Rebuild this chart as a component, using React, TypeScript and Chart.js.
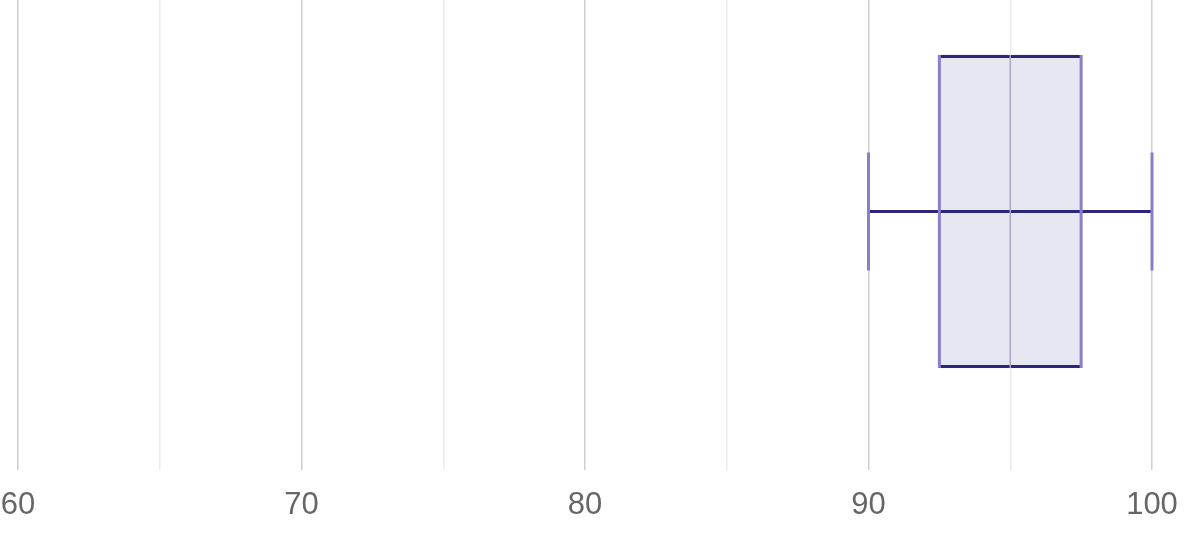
import React, { useEffect, useRef } from "react";
import { Chart, registerables } from "chart.js";

Chart.register(...registerables);

// box plot summary, one row
const categories = ["Score"];
const whiskerLow = [90];
const q1 = [92.5];
const median = [95];
const q3 = [97.5];
const whiskerHigh = [100];

const xTicks = [60, 70, 80, 90, 100];

const NAVY = "#29267c";
const PURPLE = "#8a7fcb";
const FILL = "#e7e7f1";
const MEDIAN = "#aaa7c6";

const boxPlotPlugin = {
  id: "boxPlot",
  afterDatasetsDraw(chart: Chart) {
    const ctx = chart.ctx;
    const xs = chart.scales.x;
    const meta = chart.getDatasetMeta(0);
    meta.data.forEach((bar: any, i: number) => {
      const { y, height } = bar.getProps(["y", "height"], true);
      const top = y - height / 2;
      const bottom = y + height / 2;
      const left = xs.getPixelForValue(q1[i]);
      const right = xs.getPixelForValue(q3[i]);
      const lo = xs.getPixelForValue(whiskerLow[i]);
      const hi = xs.getPixelForValue(whiskerHigh[i]);
      const mid = xs.getPixelForValue(median[i]);
      const capHalf = 59;

      ctx.save();
      ctx.lineCap = "butt";

      // top / bottom edges and whisker line
      ctx.strokeStyle = NAVY;
      ctx.lineWidth = 3;
      ctx.beginPath();
      ctx.moveTo(left, top + 1.5);
      ctx.lineTo(right, top + 1.5);
      ctx.moveTo(left, bottom - 1.5);
      ctx.lineTo(right, bottom - 1.5);
      ctx.moveTo(lo, y);
      ctx.lineTo(hi, y);
      ctx.stroke();

      // side edges and whisker caps
      ctx.strokeStyle = PURPLE;
      ctx.beginPath();
      ctx.moveTo(left, top);
      ctx.lineTo(left, bottom);
      ctx.moveTo(right, top);
      ctx.lineTo(right, bottom);
      ctx.moveTo(lo, y - capHalf);
      ctx.lineTo(lo, y + capHalf);
      ctx.moveTo(hi, y - capHalf);
      ctx.lineTo(hi, y + capHalf);
      ctx.stroke();

      // median
      ctx.strokeStyle = MEDIAN;
      ctx.lineWidth = 1.5;
      ctx.beginPath();
      ctx.moveTo(mid, top);
      ctx.lineTo(mid, bottom);
      ctx.stroke();
      ctx.restore();
    });
  },
};

const App: React.FC = () => {
  const canvasRef = useRef<HTMLCanvasElement | null>(null);
  const chartRef = useRef<Chart | null>(null);

  useEffect(() => {
    if (!canvasRef.current) return;
    chartRef.current?.destroy();

    chartRef.current = new Chart(canvasRef.current, {
      type: "bar",
      data: {
        labels: categories,
        datasets: [
          {
            label: categories[0],
            data: categories.map((_, i) => ({ x: [q1[i], q3[i]], y: 0 })) as any,
            backgroundColor: FILL,
            borderWidth: 0,
            barThickness: 313,
            grouped: false,
          },
        ],
      },
      options: {
        indexAxis: "y",
        animation: false,
        responsive: true,
        maintainAspectRatio: false,
        layout: { padding: { left: 18, right: 36, top: 0, bottom: -8 } },
        plugins: {
          legend: { display: false },
          tooltip: { enabled: false },
        },
        scales: {
          x: {
            type: "linear",
            min: xTicks[0],
            max: xTicks[xTicks.length - 1],
            border: { display: false },
            afterFit: (scale: any) => {
              // let the end labels overhang like the original
              scale.paddingLeft = 0;
              scale.paddingRight = 0;
            },
            grid: {
              drawTicks: false,
              lineWidth: 1.5,
              color: (c: any) =>
                c.tick && c.tick.value % 10 === 0 ? "#cfcfcf" : "#ebebeb",
            },
            ticks: {
              stepSize: 5,
              padding: 17,
              color: "#666666",
              font: { family: "Arial, 'Liberation Sans', sans-serif", size: 31 },
              maxRotation: 0,
              callback: (v: any) => (xTicks.includes(Number(v)) ? String(v) : ""),
            },
          },
          y: {
            type: "linear",
            display: false,
            min: -1,
            max: 0.8,
          },
        },
      },
      plugins: [boxPlotPlugin],
    });

    const instance = chartRef.current;
    return () => {
      instance?.destroy();
    };
  }, []);

  return (
    <div
      style={{
        position: "fixed",
        left: 0,
        top: 0,
        width: 1188,
        height: 533,
        background: "#ffffff",
      }}
    >
      <canvas ref={canvasRef} />
    </div>
  );
};

export default App;
